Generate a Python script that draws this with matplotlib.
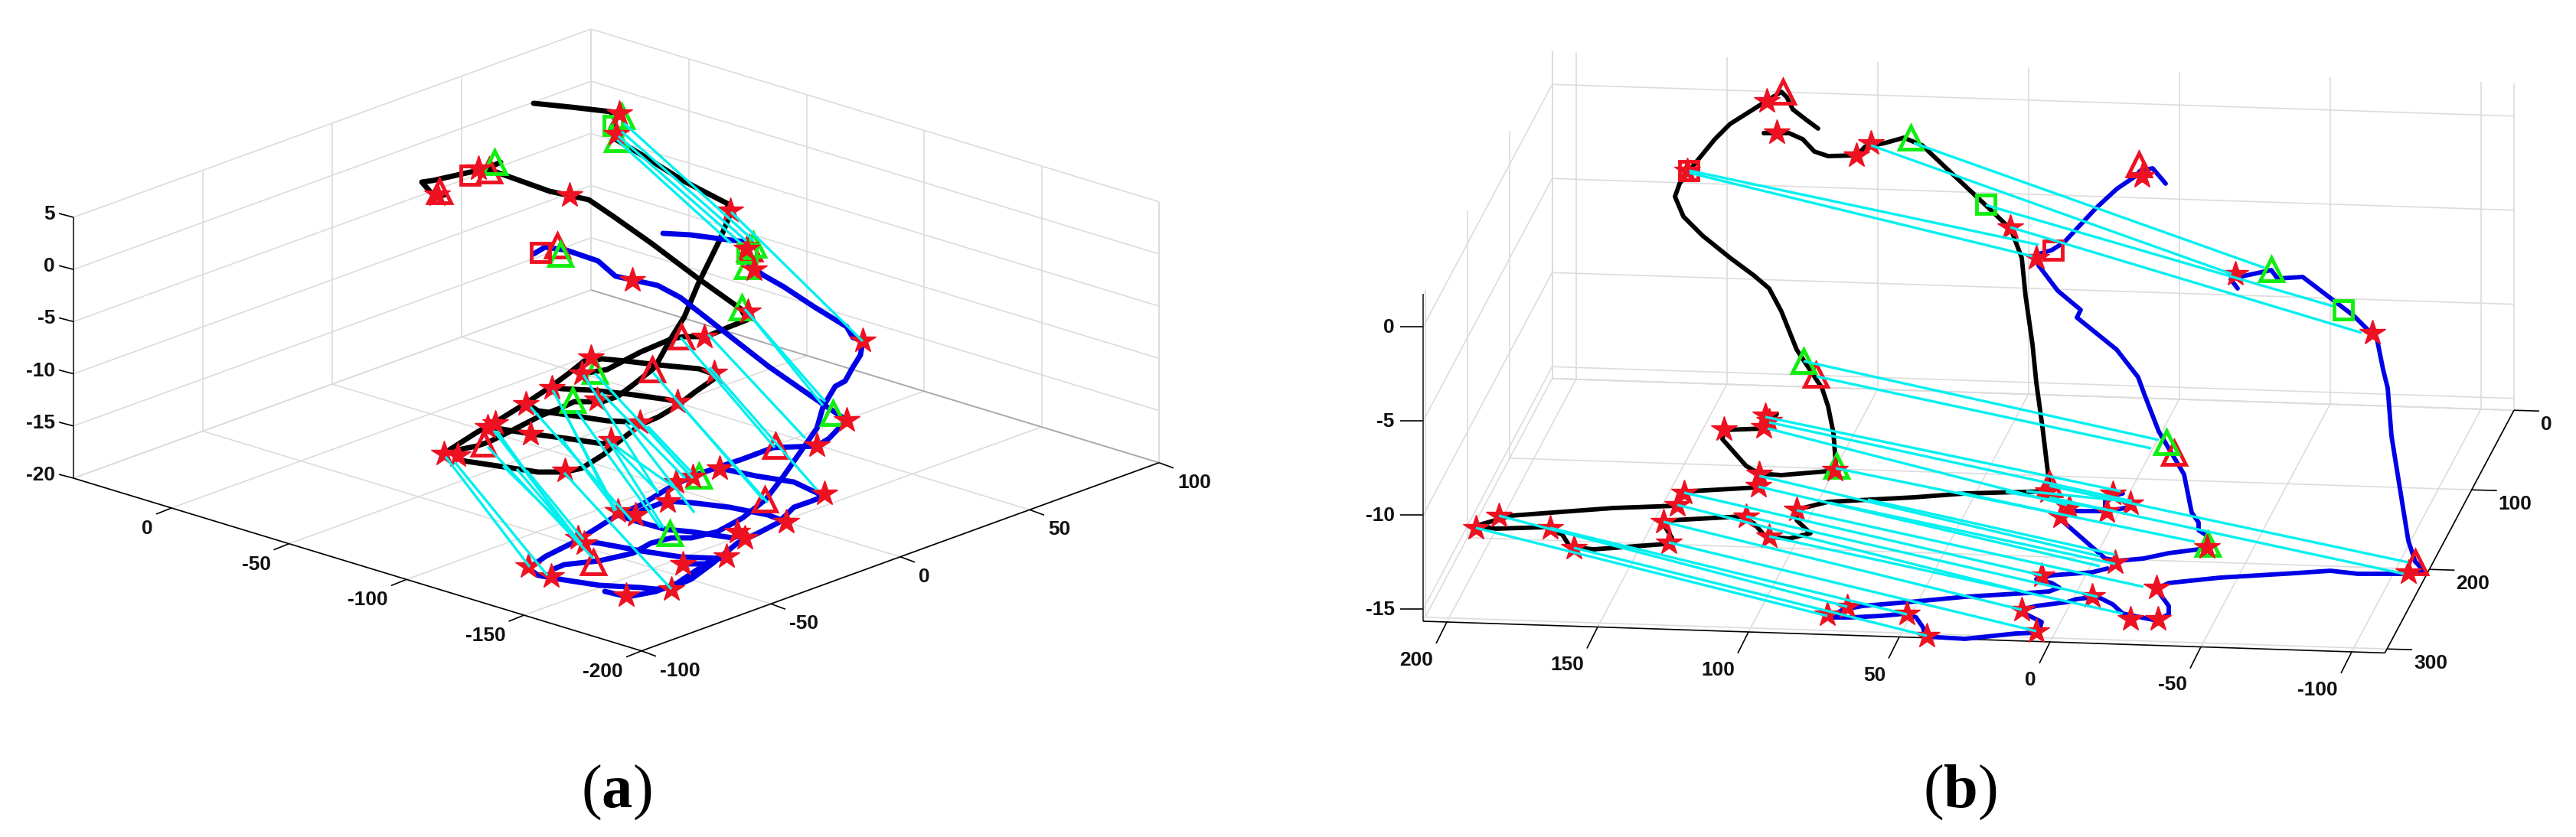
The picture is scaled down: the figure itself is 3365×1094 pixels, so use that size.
import matplotlib
matplotlib.use("Agg")
import matplotlib.pyplot as plt

plt.rcParams['font.family'] = ['Liberation Sans', 'DejaVu Sans']
plt.rcParams['mathtext.fontset'] = 'custom'
plt.rcParams['mathtext.rm'] = 'Liberation Serif'
plt.rcParams['mathtext.bf'] = 'Liberation Serif:bold'

# axis ticks of the two 3d boxes
a_xticks = [0, -50, -100, -150, -200]
a_yticks = [-100, -50, 0, 50, 100]
a_zticks = [5, 0, -5, -10, -15, -20]
b_xticks = [200, 150, 100, 50, 0, -50, -100]
b_yticks = [0, 100, 200, 300]
b_zticks = [0, -5, -10, -15]

# box limits
a_xlim = (41.7, -200)
a_ylim = (-100, 100)
a_zlim = (-20, 5)
b_xlim = (207.9, -111)
b_ylim = (305, 0)
b_zlim = (-15.63, 1.75)

# tracks as they appear on the page, in picture pixels (x, y)
a_black = [
    [(697,135),(746,140),(798,146),(804,157),(798,168),(804,182),(841,204),(892,236),(950,266),(953,282),
     (940,314),(912,371),(894,414),(876,443),(856,479),(852,483),(827,503),(807,518),(787,525),(750,525),
     (733,533),(707,543),(670,562),(640,577),(623,583),(603,587),(593,593),(603,602),(657,610),(703,617),
     (737,617),(760,612),(790,593),(807,578),(837,555),(860,545),(885,530),(907,513),(933,495),(930,488),
     (913,482),(860,477),(818,472),(787,469),(763,472),(743,488),(720,505),(687,527),(650,550),(623,565),(587,588)],
    [(640,558),(650,560),(693,567),(740,573),(787,580),(800,577)],
    [(687,527),(703,537),(747,543),(793,550),(837,552)],
    [(720,505),(733,508),(773,510),(820,515),(870,522),(885,525)],
    [(763,488),(793,483),(837,460),(877,443),(893,440),(923,440),(953,427),(976,418),(968,404),(912,364),
     (851,318),(800,282),(769,261),(718,250),(654,227),(640,222),(614,225),(565,236),(551,238),(565,254),(580,255)],
    [(625,225),(654,212)],
]
a_blue = [
    [(866,305),(902,307),(940,312),(973,316),(978,330),(976,343),(996,359),(1024,375),(1065,402),(1106,427),
     (1114,441),(1127,446),(1124,464),(1114,480),(1104,498),(1091,505),(1075,532),(1067,560),(1023,623),(1000,653),
     (970,677),(937,695),(903,703),(877,703),(850,710),(827,723),(783,733),(737,738),(725,743)],
    [(690,743),(703,752),(737,758),(783,765),(837,768),(857,770),(877,768),(903,757),(930,737),(963,710),
     (990,697),(1017,683),(1037,663),(1060,655),(1077,648)],
    [(690,743),(713,727),(753,707),(807,673),(837,660),(870,640),(903,623),(940,610),(970,600),(1010,585),
     (1067,583),(1083,573),(1106,549)],
    [(807,673),(827,680),(870,692),(903,695),(957,703),(975,698)],
    [(753,707),(783,710),(837,720),(890,728),(947,730)],
    [(890,737),(925,737),(945,725)],
    [(837,668),(870,655),(903,657),(953,663),(1003,673),(1027,682)],
    [(940,612),(987,622),(1037,630),(1075,648)],
    [(790,773),(820,780),(857,773),(885,762),(925,735)],
    [(697,332),(712,323),(740,327),(781,341),(804,361),(827,366),(859,373),(889,389),(958,443),(1004,479),
     (1050,511),(1101,546),(1106,549)],
]
b_black = [
    [(2375,168),(2360,157),(2342,143),(2334,127),(2327,120),(2306,133),(2260,162),(2240,182),(2209,220),(2194,240),
     (2188,257),(2199,283),(2224,308),(2260,337),(2291,360),(2311,377),(2327,407),(2347,457),(2362,480),(2380,507),
     (2388,531),(2395,566),(2398,605),(2398,615),(2327,621),(2298,619),(2281,609),(2250,574),(2252,562),(2306,560),(2321,541)],
    [(2298,633),(2296,637),(2209,642),(2196,648),(2191,661),(2107,664),(1974,674),(1929,687),(1954,691),(2020,689),
     (2041,699),(2051,715),(2082,718),(2176,711),(2184,703),(2171,682),(2184,680),(2275,675),(2291,684),(2306,701),
     (2337,704),(2365,697),(2347,680),(2347,666),(2388,656),(2500,650),(2567,645),(2677,642)],
    [(2304,174),(2337,174),(2355,182),(2370,198),(2388,204),(2426,203),(2436,192),(2462,187),(2487,180),(2511,190),
     (2550,227),(2599,273),(2627,300),(2641,337),(2646,387),(2655,450),(2660,500),(2668,558),(2677,633)],
]
b_blue = [
    [(2829,240),(2812,220),(2796,223),(2790,230),(2765,247),(2738,272),(2696,317),(2680,327),(2663,332),(2663,347),
     (2688,380),(2718,405),(2713,415),(2765,457),(2793,493),(2801,515),(2820,564),(2853,620),(2863,670),(2872,683),
     (2872,693),(2883,700),(2880,717),(2833,723),(2800,730),(2767,733),(2750,730),(2693,680),(2692,670),(2700,668),
     (2750,668),(2783,663)],
    [(2750,668),(2750,650),(2773,645)],
    [(2753,743),(2733,748),(2680,752),(2660,757),(2680,762),(2690,768),(2677,773),(2650,775),(2567,780),(2493,787),
     (2433,792),(2407,797),(2390,807),(2417,807),(2457,805),(2490,802),(2503,807),(2512,820),(2515,832),(2567,835),
     (2633,828),(2663,827),(2667,813),(2647,803),(2640,797),(2660,792),(2700,787),(2713,783),(2740,780),(2760,790),
     (2773,802),(2817,811),(2833,803),(2833,792),(2817,770),(2833,762),(2900,755),(3000,749),(3044,746),(3080,750),
     (3146,750),(3168,748),(3155,734),(3146,707),(3124,570),(3119,507),(3113,483),(3105,443),(3075,413),(3008,362),
     (2975,364),(2967,353),(2925,362),(2914,365),(2923,377)],
]

# cyan match lines, picture pixels
a_link_from = [(815,161),(812,172),(808,178),(806,183),(955,277),(973,404),(979,411),(889,441),(925,437),(853,487),
               (888,528),(927,480),(840,555),(846,557),(777,488),(785,513),(762,490),(817,553),(793,573),(805,587),
               (800,580),(733,573),(753,537),(738,540),(693,532),(737,618),(582,597),(594,604),(637,584),(649,563),
               (645,563),(657,609),(675,613),(688,615),(722,510)]
a_link_to = [(985,315),(975,315),(968,318),(955,318),(1127,446),(1078,525),(1075,530),(1012,585),(1052,573),(997,653),
             (1003,657),(1067,640),(897,617),(903,617),(905,625),(895,625),(860,645),(907,670),(867,690),(860,643),
             (885,640),(800,660),(863,690),(803,668),(825,680),(877,770),(692,741),(715,752),(775,730),(752,706),
             (760,712),(749,699),(752,703),(762,705),(805,667)]
b_link_from = [(2207,223),(2207,226),(2500,187),(2444,190),(2594,268),(2626,297),(2356,472),(2373,492),(2311,552),(2306,545),
               (2309,560),(2398,612),(2298,622),(2297,636),(2677,635),(2677,650),(2347,667),(2281,675),(2311,701),(2173,682),
               (1958,674),(1928,690),(2025,690),(2056,716),(2180,709),(2200,644),(2191,660),(2390,657),(2440,653),(2557,643),
               (2620,643),(2647,642)]
b_link_to = [(2663,320),(2655,335),(2958,350),(2915,358),(3047,400),(3085,435),(2820,575),(2810,586),(2785,655),(2770,642),
             (2700,660),(2867,708),(2743,727),(2743,740),(3146,735),(3140,750),(2800,767),(2740,780),(2773,802),(2641,797),
             (2413,793),(2387,805),(2491,803),(2517,831),(2660,825),(2667,752),(2650,775),(2763,737),(2763,725),(2692,672),
             (2762,668),(2777,655)]

# detected features
a_stars = [(809,148),(805,175),(571,254),(744,255),(826,366),(625,220),(954,275),(975,325),(985,352),(1127,445),(977,407),
           (580,593),(598,595),(637,558),(647,553),(687,528),(693,567),(721,507),(760,488),(772,467),(780,522),(798,575),
           (836,552),(885,525),(933,487),(920,440),(738,615),(690,740),(720,753),(755,703),(763,710),(807,668),(830,673),
           (872,655),(818,778),(877,770),(892,737),(949,727),(963,695),(973,703),(1027,682),(883,630),(905,623),(940,612),
           (1067,582),(1077,645),(1106,549)]
a_red_tri = [(574,250),(639,223),(728,321),(852,483),(890,440),(632,580),(1013,583),(999,653),(775,735),(979,325)]
a_green_tri = [(646,212),(812,152),(806,182),(732,332),(984,320),(976,348),(969,402),(1088,540),(777,485),(748,523),(913,622),(875,697)]
a_red_sq = [(614,229),(706,330),(976,330)]
a_green_sq = [(801,164),(976,331)]
b_stars = [(2308,132),(2321,173),(2425,203),(2444,187),(2204,223),(2306,543),(2304,558),(2311,550),(2252,561),(2298,619),
           (2297,635),(2397,614),(2200,644),(2191,660),(1958,674),(1928,690),(2025,690),(2056,716),(2180,709),(2173,682),
           (2281,675),(2311,701),(2347,666),(2626,297),(2660,337),(2798,230),(2920,358),(3099,435),(2387,803),(2413,793),
           (2491,802),(2517,831),(2660,825),(2641,797),(2667,752),(2733,779),(2783,809),(2819,809),(2817,768),(2763,735),
           (2883,715),(2692,675),(2703,663),(2752,668),(2760,645),(2783,658),(2675,642),(3146,748)]
b_red_tri = [(2329,120),(2372,490),(2794,215),(2840,592),(3155,735),(2677,633)]
b_green_tri = [(2496,180),(2356,472),(2967,352),(2830,578),(2884,711),(2399,609)]
b_red_sq = [(2206,223),(2682,327)]
b_green_sq = [(2594,267),(3061,405)]


def proj_a(x, y, z):
    return (96 + (a_xlim[0] - x) * 3.07 + (y - a_ylim[0]) * 3.38,
            625 + (a_xlim[0] - x) * 0.934 - (y - a_ylim[0]) * 1.23 - (z - a_zlim[0]) * 13.64)


def proj_b(x, y, z):
    return (1890 + (200 - x) * 3.94 + (b_ylim[0] - y) * 0.553,
            813 + (200 - x) * 0.13 - (b_ylim[0] - y) * 1.04 - (z - b_zlim[0]) * 24.6)


def seg(ax, p, q, color='#dcdcdc', lw=1.2, zorder=1):
    ax.plot([p[0], q[0]], [p[1], q[1]], color=color, lw=lw, zorder=zorder, solid_capstyle='butt')


def draw_box(ax, proj, xlim, ylim, zlim, xticks, yticks, zticks, back_color):
    x0, x1 = xlim
    y0, y1 = ylim
    z0, z1 = zlim
    # walls, at x = x0 and y = y1
    for z in zticks:
        seg(ax, proj(x0, y0, z), proj(x0, y1, z))
        seg(ax, proj(x0, y1, z), proj(x1, y1, z))
    for y in yticks + [y1]:
        seg(ax, proj(x0, y, z0), proj(x0, y, z1))
        seg(ax, proj(x0, y, z0), proj(x1, y, z0))
    for x in xticks + [x1]:
        seg(ax, proj(x, y1, z0), proj(x, y1, z1))
        seg(ax, proj(x, y0, z0), proj(x, y1, z0))
    seg(ax, proj(x0, y0, z0), proj(x0, y1, z0))
    seg(ax, proj(x0, y1, z0), proj(x1, y1, z0), color=back_color)
    # front axes
    seg(ax, proj(x0, y0, z0), proj(x1, y0, z0), color='black', zorder=1.5)
    seg(ax, proj(x1, y0, z0), proj(x1, y1, z0), color='black', zorder=1.5)
    seg(ax, proj(x0, y0, z0), proj(x0, y0, z1), color='#222222', zorder=1.5)


def draw_tracks(ax, black, blue, link_from, link_to, stars, red_tri, green_tri, red_sq, green_sq, lw):
    for path in black:
        ax.plot([p[0] for p in path], [p[1] for p in path], color='black', lw=lw, zorder=2,
                solid_joinstyle='round', solid_capstyle='round')
    for path in blue:
        ax.plot([p[0] for p in path], [p[1] for p in path], color='#0000e6', lw=lw, zorder=2,
                solid_joinstyle='round', solid_capstyle='round')
    for pts, mk, col, ms in [(red_tri, '^', '#ee1122', 22), (green_tri, '^', '#11ee11', 21),
                             (red_sq, 's', '#ee1122', 17), (green_sq, 's', '#11ee11', 17)]:
        ax.plot([p[0] for p in pts], [p[1] for p in pts], ls='none', marker=mk, ms=ms, mfc='none',
                mec=col, mew=3.5, zorder=3)
    ax.plot([p[0] for p in stars], [p[1] for p in stars], ls='none', marker='*', ms=25,
            mfc='#ee1122', mec='#ee1122', mew=1, zorder=3.5)
    for p, q in zip(link_from, link_to):
        seg(ax, p, q, color='#00f0f0', lw=2.4, zorder=4)


fig = plt.figure(figsize=(33.66, 10.94), dpi=100)
ax = fig.add_axes([0, 0, 1, 1])
ax.set_xlim(0, 3366)
ax.set_ylim(1094, 0)
ax.axis('off')

draw_box(ax, proj_a, a_xlim, a_ylim, a_zlim, a_xticks, a_yticks, a_zticks, '#a8a8a8')
draw_box(ax, proj_b, b_xlim, b_ylim, b_zlim, b_xticks, b_yticks, b_zticks, '#dcdcdc')
draw_tracks(ax, a_black, a_blue, a_link_from, a_link_to, a_stars, a_red_tri, a_green_tri, a_red_sq, a_green_sq, 5.0)
draw_tracks(ax, b_black, b_blue, b_link_from, b_link_to, b_stars, b_red_tri, b_green_tri, b_red_sq, b_green_sq, 4.2)

lab = dict(fontsize=19, fontweight='bold', color='#111111', va='center')
# tick marks and labels, panel a
for x in a_xticks:
    p = proj_a(x, a_ylim[0], a_zlim[0])
    seg(ax, p, (p[0] - 20, p[1] + 8), color='black')
    ax.text(p[0] - 24, p[1] + 27, str(x), ha='right', **lab)
for y in a_yticks:
    p = proj_a(a_xlim[1], y, a_zlim[0])
    seg(ax, p, (p[0] + 19, p[1] + 7), color='black')
    ax.text(p[0] + 24, p[1] + 26, str(y), ha='left', **lab)
for z in a_zticks:
    p = proj_a(a_xlim[0], a_ylim[0], z)
    seg(ax, p, (p[0] - 19, p[1] - 5), color='black')
    ax.text(p[0] - 24, p[1] - 4, str(z), ha='right', **lab)
# panel b
for x in b_xticks:
    p = proj_b(x, b_ylim[0], b_zlim[0])
    seg(ax, p, (p[0] - 14, p[1] + 28), color='black')
    ax.text(p[0] - 18, p[1] + 50, str(x), ha='right', **lab)
for y in b_yticks:
    p = proj_b(b_xlim[1], y, b_zlim[0])
    seg(ax, p, (p[0] + 33, p[1] + 1), color='black')
    ax.text(p[0] + 35, p[1] + 19, str(y), ha='left', **lab)
for z in b_zticks:
    p = proj_b(b_xlim[0], b_ylim[0], z)
    seg(ax, p, (p[0] - 30, p[1]), color='black')
    ax.text(p[0] - 37, p[1] + 1, str(z), ha='right', **lab)

ax.text(805, 1036, r'($\mathbf{a}$)', fontsize=58, family='Liberation Serif', ha='center', va='center')
ax.text(2560, 1036, r'($\mathbf{b}$)', fontsize=58, family='Liberation Serif', ha='center', va='center')

fig.savefig('out.png', dpi=100)
